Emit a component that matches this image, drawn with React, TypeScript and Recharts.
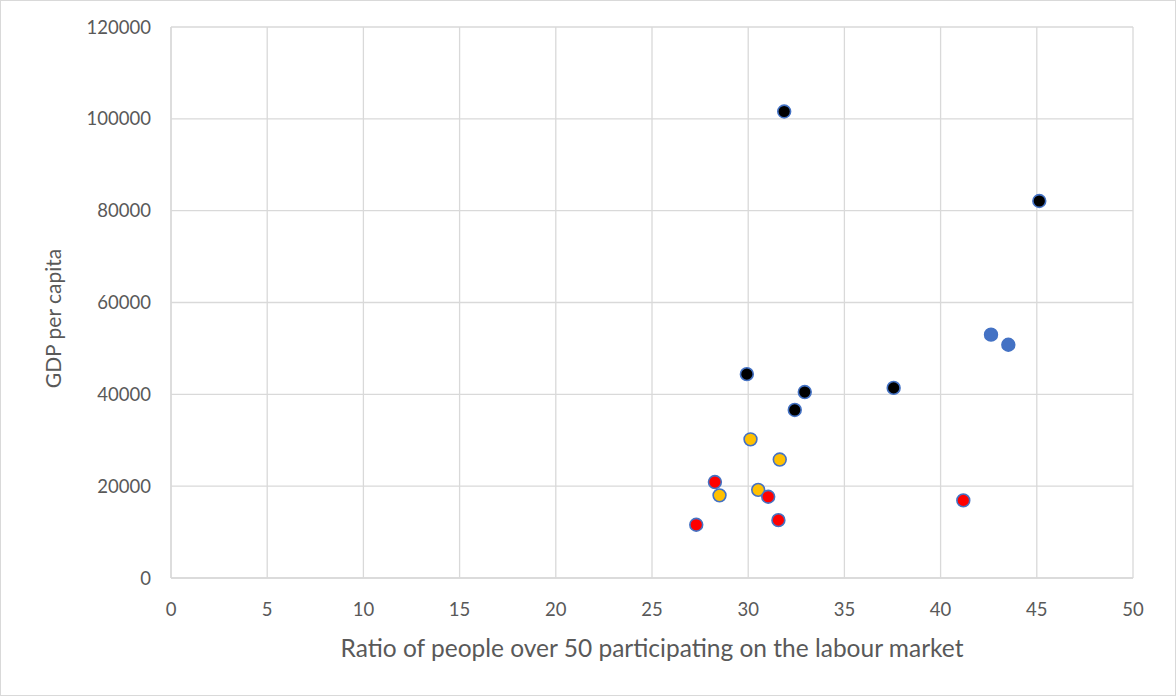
import { ScatterChart, Scatter, XAxis, YAxis, CartesianGrid } from "recharts"

// x: share of people over 50 in the labour market, y: GDP per capita
const BLACK_GROUP = [
  { x: 31.87, y: 101600 },
  { x: 45.13, y: 82100 },
  { x: 29.93, y: 44400 },
  { x: 32.94, y: 40500 },
  { x: 32.42, y: 36600 },
  { x: 37.56, y: 41400 },
]
const BLUE_GROUP = [
  { x: 42.62, y: 53000 },
  { x: 43.52, y: 50800 },
]
const ORANGE_GROUP = [
  { x: 30.12, y: 30200 },
  { x: 31.64, y: 25800 },
  { x: 30.52, y: 19200 },
  { x: 28.51, y: 18000 },
]
const RED_GROUP = [
  { x: 28.27, y: 20900 },
  { x: 31.04, y: 17700 },
  { x: 27.3, y: 11600 },
  { x: 31.57, y: 12600 },
  { x: 41.18, y: 16900 },
]

const X_TICKS = [0, 5, 10, 15, 20, 25, 30, 35, 40, 45, 50]
const Y_TICKS = [0, 20000, 40000, 60000, 80000, 100000, 120000]

const FONT = "Lato, 'Open Sans', sans-serif"
const TICK = { fontSize: 18.5, fill: "#595959", fontFamily: FONT }
const OUTLINE = "#4472C4"

const dot = (fill: string, stroke: string) => (props: any) => (
  <circle cx={props.cx} cy={props.cy} r={6.4} fill={fill} stroke={stroke} strokeWidth={1.6} />
)

export default function App() {
  return (
    <div
      style={{
        position: "fixed",
        top: 0,
        left: 0,
        width: 1176,
        height: 696,
        boxSizing: "border-box",
        border: "1px solid #d9d9d9",
        background: "#fff",
      }}
    >
      <ScatterChart width={1174} height={694} margin={{ top: 26, right: 42, bottom: 0, left: 0 }}>
        <CartesianGrid stroke="#d9d9d9" strokeWidth={1.3} />
        <XAxis
          type="number"
          dataKey="x"
          domain={[0, 50]}
          ticks={X_TICKS}
          interval={0}
          tick={TICK}
          tickLine={false}
          tickSize={0}
          tickMargin={25}
          axisLine={{ stroke: "#d9d9d9", strokeWidth: 1.3 }}
          height={117}
          label={{
            value: "Ratio of people over 50 participating on the labour market",
            position: "center",
            dy: 12,
            style: { fontSize: 24.5, fill: "#595959", fontFamily: FONT },
          }}
        />
        <YAxis
          type="number"
          dataKey="y"
          domain={[0, 120000]}
          ticks={Y_TICKS}
          interval={0}
          tick={TICK}
          tickLine={false}
          tickSize={0}
          tickMargin={20}
          axisLine={{ stroke: "#d9d9d9", strokeWidth: 1.3 }}
          width={170}
          label={{
            value: "GDP per capita",
            angle: -90,
            position: "center",
            dx: -32,
            dy: 16,
            style: { fontSize: 21, fill: "#595959", fontFamily: FONT },
          }}
        />
        <Scatter data={BLACK_GROUP} shape={dot("#000000", OUTLINE)} isAnimationActive={false} />
        <Scatter data={BLUE_GROUP} shape={dot("#4472C4", "#4472C4")} isAnimationActive={false} />
        <Scatter data={ORANGE_GROUP} shape={dot("#FFC000", OUTLINE)} isAnimationActive={false} />
        <Scatter data={RED_GROUP} shape={dot("#FF0000", OUTLINE)} isAnimationActive={false} />
      </ScatterChart>
    </div>
  )
}
